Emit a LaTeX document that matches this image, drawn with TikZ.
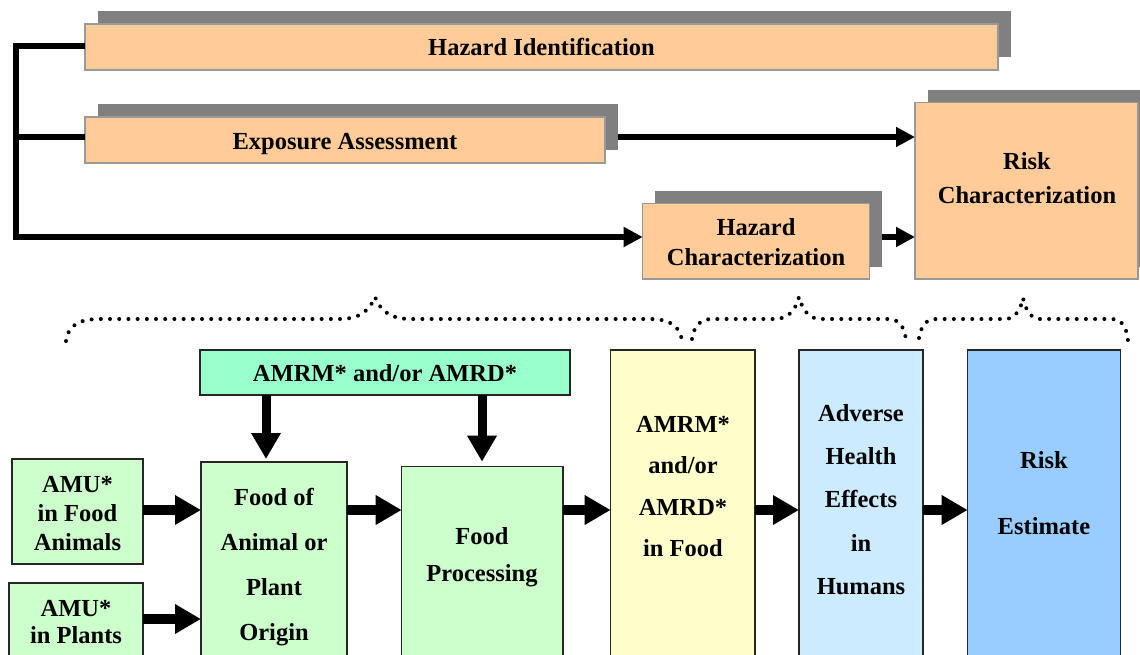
\documentclass[tikz,border=0pt]{standalone}
\usepackage{fontspec}
\setmainfont{Liberation Serif}
\usetikzlibrary{arrows.meta}
\definecolor{orangefill}{HTML}{FFCC99}
\definecolor{shgray}{HTML}{808080}
\definecolor{mintfill}{HTML}{99FFCC}
\definecolor{greenfill}{HTML}{CCFFCC}
\definecolor{yellowfill}{HTML}{FFFFCC}
\definecolor{lbluefill}{HTML}{CCEBFF}
\definecolor{bluefill}{HTML}{99CCFF}
\newcommand\mlines[2]{\vtop{\baselineskip=#1\lineskiplimit=-100pt\halign{\hfil##\hfil\cr#2\crcr}}}
\tikzset{
  obox/.style={draw=black!40, line width=1.2pt, fill=orangefill, inner sep=0pt, outer sep=0pt, anchor=north west},
  shbox/.style={fill=shgray, draw=none, inner sep=0pt, outer sep=0pt, anchor=north west},
  bbox/.style={draw=black!85, line width=1.5pt, inner sep=0pt, outer sep=0pt, anchor=north west},
  txt/.style={font=\bfseries\fontsize{24.5}{28}\selectfont, inner sep=0pt, outer sep=0pt, anchor=base, align=center},
  topconn/.style={line width=6pt, -{Triangle[length=19pt,width=19pt]}},
  plainconn/.style={line width=6pt},
  blockarrow/.style={line width=10pt, -{Triangle[length=26pt,width=28pt]}},
  downarrow/.style={line width=9pt, -{Triangle[length=26pt,width=28pt]}},
  dotbrace/.style={line width=4pt, line cap=round, dash pattern=on 0pt off 9.2pt}
}
\begin{document}
\begin{tikzpicture}[x=1pt,y=-1pt]
\useasboundingbox (0,0) rectangle (1140,655);
\clip (0,0) rectangle (1140,655);
% ---------- top: shadows ----------
\node[shbox, minimum width=913pt, minimum height=46pt] (hidS) at (97.5,11.5) {};
\node[shbox, minimum width=520pt, minimum height=46pt] (expS) at (97.5,104.5) {};
\node[shbox, minimum width=226.6pt, minimum height=75.7pt] (hcS) at (655.2,190.8) {};
\node[shbox, minimum width=223pt, minimum height=176.3pt] (rcS) at (927.5,90.2) {};
% ---------- top: boxes ----------
\node[obox, minimum width=913pt, minimum height=46pt] (hid) at (85,24) {};
\node[obox, minimum width=520pt, minimum height=46pt] (exp) at (85,117) {};
\node[obox, minimum width=226.6pt, minimum height=75.7pt] (hc) at (642.7,203.3) {};
\node[obox, minimum width=223pt, minimum height=176.3pt] (rc) at (915,102.7) {};
\node[txt] (hidT) at (541.5,56) {Hazard Identification};
\node[txt] (expT) at (345,149.5) {Exposure Assessment};
\node[txt] (hcT) at (756,235.7) {\mlines{29.3pt}{Hazard\cr Characterization}};
\node[txt] (rcT) at (1027,169.3) {\mlines{34.7pt}{Risk\cr Characterization}};
% ---------- top connectors ----------
\coordinate (bTop) at (16,46);
\coordinate (bMid) at (16,137);
\coordinate (bBot) at (16,237);
\draw[topconn] (hid.west |- bTop) -- (bTop) -- (bBot) -- (hc.west |- bBot);
\draw[plainconn] (bMid) -- (exp.west |- bMid);
\draw[topconn] (expS.east |- bMid) -- (rc.west |- bMid);
\draw[topconn] (hcS.east |- bBot) -- (rc.west |- bBot);
% ---------- braces ----------
\draw[dotbrace] (66,341) .. controls (68,326) and (78,319) .. (100,319) -- (340,319) .. controls (360,319) and (370,310) .. (375,297) .. controls (380,310) and (390,319) .. (410,319) -- (650,319) .. controls (670,319) and (680,326) .. (682,341);
\draw[dotbrace] (692,339) .. controls (694,326) and (700,319) .. (712,319) -- (775,319) .. controls (790,319) and (796,308) .. (799,297) .. controls (802,308) and (808,319) .. (820,319) -- (888,319) .. controls (900,319) and (905,328) .. (906,341);
\draw[dotbrace] (919,338) .. controls (921,326) and (926,319) .. (936,319) -- (1005,319) .. controls (1016,319) and (1021,308) .. (1023,298) .. controls (1025,308) and (1030,319) .. (1040,319) -- (1112,319) .. controls (1122,319) and (1127,328) .. (1128,341);
% ---------- bottom boxes ----------
\node[bbox, fill=mintfill, minimum width=370pt, minimum height=45pt] (amt) at (200,350) {};
\node[bbox, fill=greenfill, minimum width=131pt, minimum height=105pt] (am) at (12,459) {};
\node[bbox, fill=greenfill, minimum width=134pt, minimum height=120pt] (ap) at (9,583) {};
\node[bbox, fill=greenfill, minimum width=146pt, minimum height=250pt] (food) at (201,462) {};
\node[bbox, fill=greenfill, minimum width=161.3pt, minimum height=250pt] (proc) at (401.7,466.7) {};
\node[bbox, fill=yellowfill, minimum width=144.3pt, minimum height=350pt] (amf) at (610.7,350) {};
\node[bbox, fill=lbluefill, minimum width=124pt, minimum height=350pt] (adv) at (799,350) {};
\node[bbox, fill=bluefill, minimum width=153pt, minimum height=350pt] (re) at (967.7,350) {};
% ---------- bottom texts ----------
\node[txt] (amtT) at (385,381.5) {AMRM* and/or AMRD*};
\node[txt] (amT) at (77.5,492) {\mlines{29pt}{AMU*\cr in Food\cr Animals}};
\node[txt] (apT) at (76,616) {\mlines{27pt}{AMU*\cr in Plants}};
\node[txt] (foodT) at (274,505) {\mlines{45pt}{Food of\cr Animal or\cr Plant\cr Origin}};
\node[txt] (procT) at (482,544) {\mlines{37.7pt}{Food\cr Processing}};
\node[txt] (amfT) at (683,432.5) {\mlines{41.3pt}{AMRM*\cr and/or\cr AMRD*\cr in Food}};
\node[txt] (advT) at (861,421.5) {\mlines{43.2pt}{Adverse\cr Health\cr Effects\cr in\cr Humans}};
\node[txt] (reT) at (1044,468) {\mlines{66pt}{Risk\cr Estimate}};
% ---------- bottom connectors ----------
\coordinate (rowA) at (0,510);
\coordinate (rowB) at (0,619);
\coordinate (d1) at (266,0);
\coordinate (d2) at (482,0);
\draw[blockarrow] (am.east |- rowA) -- (food.west |- rowA);
\draw[blockarrow] (ap.east |- rowB) -- (food.west |- rowB);
\draw[blockarrow] (food.east |- rowA) -- (proc.west |- rowA);
\draw[blockarrow] (proc.east |- rowA) -- (amf.west |- rowA);
\draw[blockarrow] (amf.east |- rowA) -- (adv.west |- rowA);
\draw[blockarrow] (adv.east |- rowA) -- (re.west |- rowA);
\draw[downarrow, shorten >=3pt] (amt.south -| d1) -- (food.north -| d1);
\draw[downarrow, shorten >=5pt] (amt.south -| d2) -- (proc.north -| d2);
\end{tikzpicture}
\end{document}
